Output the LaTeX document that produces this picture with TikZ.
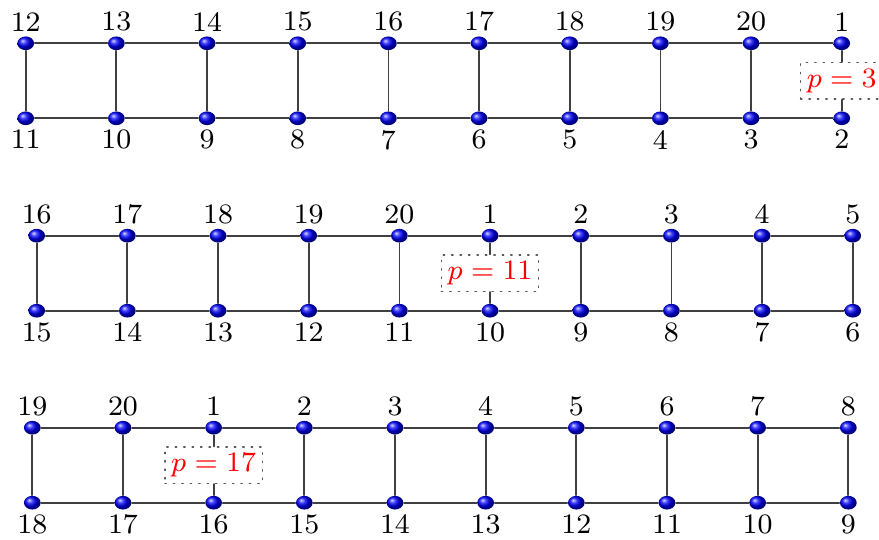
\documentclass[tikz,border=0pt]{standalone}
\usetikzlibrary{shapes.geometric}
\begin{document}
\begin{tikzpicture}[x=0.01cm, y=-0.01cm, font=\footnotesize, line join=round, line cap=round,
		vtx/.style={ellipse, inner sep=0pt, minimum width=0.167cm, minimum height=0.137cm, ball color=blue},
		lbl/.style={inner sep=1pt, label distance=0pt},
		edge/.style={draw=black!75, line width=0.5pt},
		pbox/.style={draw=black!65, dotted, text=red, inner sep=1.8pt}]
				\useasboundingbox (0,0) rectangle (879,540);
				
				% rows: name / x of first column / y of top / first top label / p / column of p
				\foreach \r/\xo/\yo/\s/\p/\k in {a/25.7/43.3/12/3/10, b/36.7/235.7/16/11/6, c/32.3/427.7/19/17/3} {
					\foreach \i in {1,...,10} {
						\pgfmathtruncatemacro\tl{mod(\s+\i-2,20)+1}
						\pgfmathtruncatemacro\bl{mod(\s-\i+19,20)+1}
						\node[vtx, label={[lbl]above:\tl}] (\r t\i) at ({\xo+(\i-1)*90.67},\yo) {};
						\node[vtx, label={[lbl]below:\bl}] (\r b\i) at ({\xo+(\i-1)*90.67},{\yo+75}) {};
					}
					\foreach \i [count=\j from 2] in {1,...,9} {
						\draw[edge] (\r t\i) -- (\r t\j) (\r b\i) -- (\r b\j);
					}
					\node[pbox] (\r p) at ({\xo+(\k-1)*90.67},{\yo+37.5}) {$p=\p$};
					\foreach \i in {1,...,10} {
						\ifnum\i=\k
							\draw[edge] (\r t\i) -- (\r p) -- (\r b\i);
						\else
							\draw[edge] (\r t\i) -- (\r b\i);
						\fi
					}
				}
\end{tikzpicture}
\end{document}
